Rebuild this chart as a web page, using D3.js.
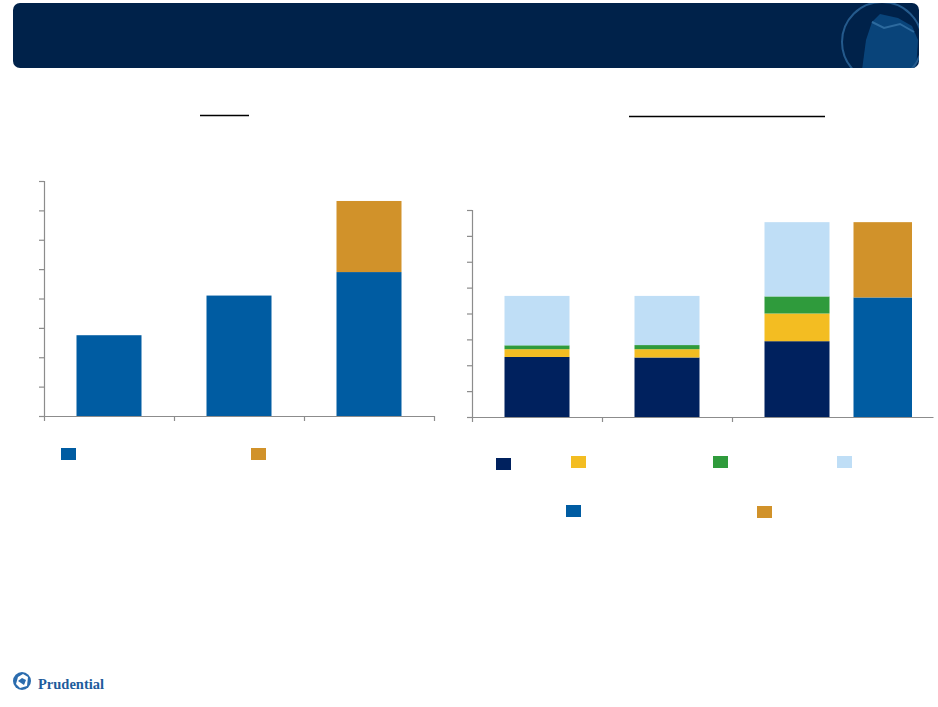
<!DOCTYPE html>
<html>
<head>
<meta charset="utf-8">
<style>
  body { margin: 0; background: #fff; }
  svg { display: block; }
</style>
</head>
<body>
<svg width="938" height="707"></svg>

<script src="https://d3js.org/d3.v7.min.js"></script>
<script>
  // values (y axis is 0..8 in both panels)
  const leftCategories = ["p1", "p2", "p3"]
  const leftBase = [2.75, 4.1, 4.9]
  const leftAdded = [0, 0, 2.42]

  const rightCategories = ["q1", "q2", "q3", "q4"]
  const rightNavy = [2.32, 2.3, 2.93, 0]
  const rightYellow = [0.3, 0.32, 1.07, 0]
  const rightGreen = [0.15, 0.16, 0.66, 0]
  const rightLight = [1.91, 1.9, 2.87, 0]
  const rightBlue = [0, 0, 0, 4.62]
  const rightGold = [0, 0, 0, 2.91]

  const yTicks = [0, 1, 2, 3, 4, 5, 6, 7, 8]

  const colors = {
    base: "#005ca2",
    added: "#d1922a",
    navy: "#00215e",
    yellow: "#f3bd22",
    green: "#2f9b3c",
    light: "#bfdef6",
    blue: "#005ca2",
    gold: "#d1922a"
  }

  const svg = d3.select("svg")
  const axisColor = "#8c8c8c"

  // header band
  const header = svg.append("g")
  header.append("clipPath").attr("id", "hclip")
    .append("rect").attr("x", 13).attr("y", 3).attr("width", 906).attr("height", 65).attr("rx", 7)
  header.append("rect")
    .attr("x", 13).attr("y", 3).attr("width", 906).attr("height", 65).attr("rx", 7)
    .attr("fill", "#00224a")
  const mark = header.append("g").attr("clip-path", "url(#hclip)")
  mark.append("path")
    .attr("d", "M862,70 L866,40 L872,22 L880,14 L898,18 L912,26 L918,40 L916,70 Z")
    .attr("fill", "#0a4a82").attr("opacity", 0.85)
  mark.append("path")
    .attr("d", "M872,22 L884,28 L900,24 L914,32")
    .attr("fill", "none").attr("stroke", "#2d6a9e").attr("stroke-width", 2)
  mark.append("circle")
    .attr("cx", 882).attr("cy", 42).attr("r", 40)
    .attr("fill", "none").attr("stroke", "#245a8c").attr("stroke-width", 2)

  // title underlines (titles themselves are blank in the source)
  svg.append("line").attr("x1", 200).attr("x2", 249).attr("y1", 115.5).attr("y2", 115.5)
    .attr("stroke", "#000").attr("stroke-width", 1.5)
  svg.append("line").attr("x1", 629).attr("x2", 825).attr("y1", 116.5).attr("y2", 116.5)
    .attr("stroke", "#000").attr("stroke-width", 1.5)

  function drawAxes(g, y, xAxisScale, xTickValues) {
    const ya = g.append("g")
      .attr("transform", `translate(${xAxisScale.range()[0]},0)`)
      .call(d3.axisLeft(y).tickValues(yTicks).tickSize(5).tickFormat(""))
    const xa = g.append("g")
      .attr("transform", `translate(0,${y(0)})`)
      .call(d3.axisBottom(xAxisScale).tickValues(xTickValues).tickSize(5).tickSizeOuter(0).tickFormat(""))
    g.selectAll(".domain, .tick line").attr("stroke", axisColor).attr("stroke-width", 1.2)
  }

  // ---------- left panel ----------
  const left = svg.append("g")
  const yL = d3.scaleLinear().domain([0, 8]).range([416, 181])
  const xL = d3.scaleBand().domain(leftCategories).range([44, 434]).paddingInner(0.5).paddingOuter(0.25)
  const xLAxis = d3.scaleLinear().domain([0, 3]).range([44, 434])

  const leftRows = leftCategories.map((c, i) => ({ cat: c, base: leftBase[i], added: leftAdded[i] }))
  const leftKeys = ["base", "added"]
  const leftStack = d3.stack().keys(leftKeys)(leftRows)

  left.selectAll("g.series")
    .data(leftStack)
    .join("g")
      .attr("class", "series")
      .attr("fill", d => colors[d.key])
    .selectAll("rect")
    .data(d => d.filter(p => p[1] > p[0]))
    .join("rect")
      .attr("x", d => xL(d.data.cat))
      .attr("width", xL.bandwidth())
      .attr("y", d => yL(d[1]))
      .attr("height", d => yL(d[0]) - yL(d[1]))

  drawAxes(left, yL, xLAxis, [0, 1, 2, 3])

  const leftLegend = [{ key: "base", x: 61 }, { key: "added", x: 251 }]
  left.selectAll("rect.leg")
    .data(leftLegend)
    .join("rect")
      .attr("class", "leg")
      .attr("x", d => d.x).attr("y", 448)
      .attr("width", 15).attr("height", 12)
      .attr("fill", d => colors[d.key])

  // ---------- right panel ----------
  const right = svg.append("g")
  const yR = d3.scaleLinear().domain([0, 8]).range([417, 210])
  const xR = d3.scaleBand().domain(rightCategories.slice(0, 3)).range([472, 862]).paddingInner(0.5).paddingOuter(0.25)
  const xRAxis = d3.scaleLinear().domain([0, 461 / 130]).range([472, 933])
  const bw = xR.bandwidth()
  // the fourth bar sits beside the third, narrower
  const barX = c => c === "q4" ? xR("q3") + bw + 24 : xR(c)
  const barW = c => c === "q4" ? bw * 0.9 : bw

  const rightRows = rightCategories.map((c, i) => ({
    cat: c,
    navy: rightNavy[i], yellow: rightYellow[i], green: rightGreen[i], light: rightLight[i],
    blue: rightBlue[i], gold: rightGold[i]
  }))
  const rightKeys = ["navy", "yellow", "green", "light", "blue", "gold"]
  const rightStack = d3.stack().keys(rightKeys)(rightRows)

  right.selectAll("g.series")
    .data(rightStack)
    .join("g")
      .attr("class", "series")
      .attr("fill", d => colors[d.key])
    .selectAll("rect")
    .data(d => d.filter(p => p[1] > p[0]))
    .join("rect")
      .attr("x", d => barX(d.data.cat))
      .attr("width", d => barW(d.data.cat))
      .attr("y", d => yR(d[1]))
      .attr("height", d => yR(d[0]) - yR(d[1]))

  drawAxes(right, yR, xRAxis, [0, 1, 2])

  const rightLegend = [
    { key: "navy", x: 496, y: 458 },
    { key: "yellow", x: 571, y: 456 },
    { key: "green", x: 713, y: 456 },
    { key: "light", x: 837, y: 456 },
    { key: "blue", x: 566, y: 505 },
    { key: "gold", x: 757, y: 506 }
  ]
  right.selectAll("rect.leg")
    .data(rightLegend)
    .join("rect")
      .attr("class", "leg")
      .attr("x", d => d.x).attr("y", d => d.y)
      .attr("width", 15).attr("height", 12)
      .attr("fill", d => colors[d.key])

  // footer logo
  const logo = svg.append("g")
  logo.append("circle").attr("cx", 22).attr("cy", 681).attr("r", 9).attr("fill", "#2b6cae")
  logo.append("path")
    .attr("d", "M16,684 L18,677 L23,674 L28,677 L27,686 L20,688 Z")
    .attr("fill", "#fff")
  logo.append("path")
    .attr("d", "M18,681 L22,678 L26,680 L24,685 Z")
    .attr("fill", "#2b6cae")
  logo.append("text")
    .attr("x", 38).attr("y", 689)
    .attr("font-family", "Liberation Serif, serif")
    .attr("font-weight", "bold")
    .attr("font-size", 14.5)
    .attr("fill", "#1d5c9c")
    .text("Prudential")
</script>
</body>
</html>
